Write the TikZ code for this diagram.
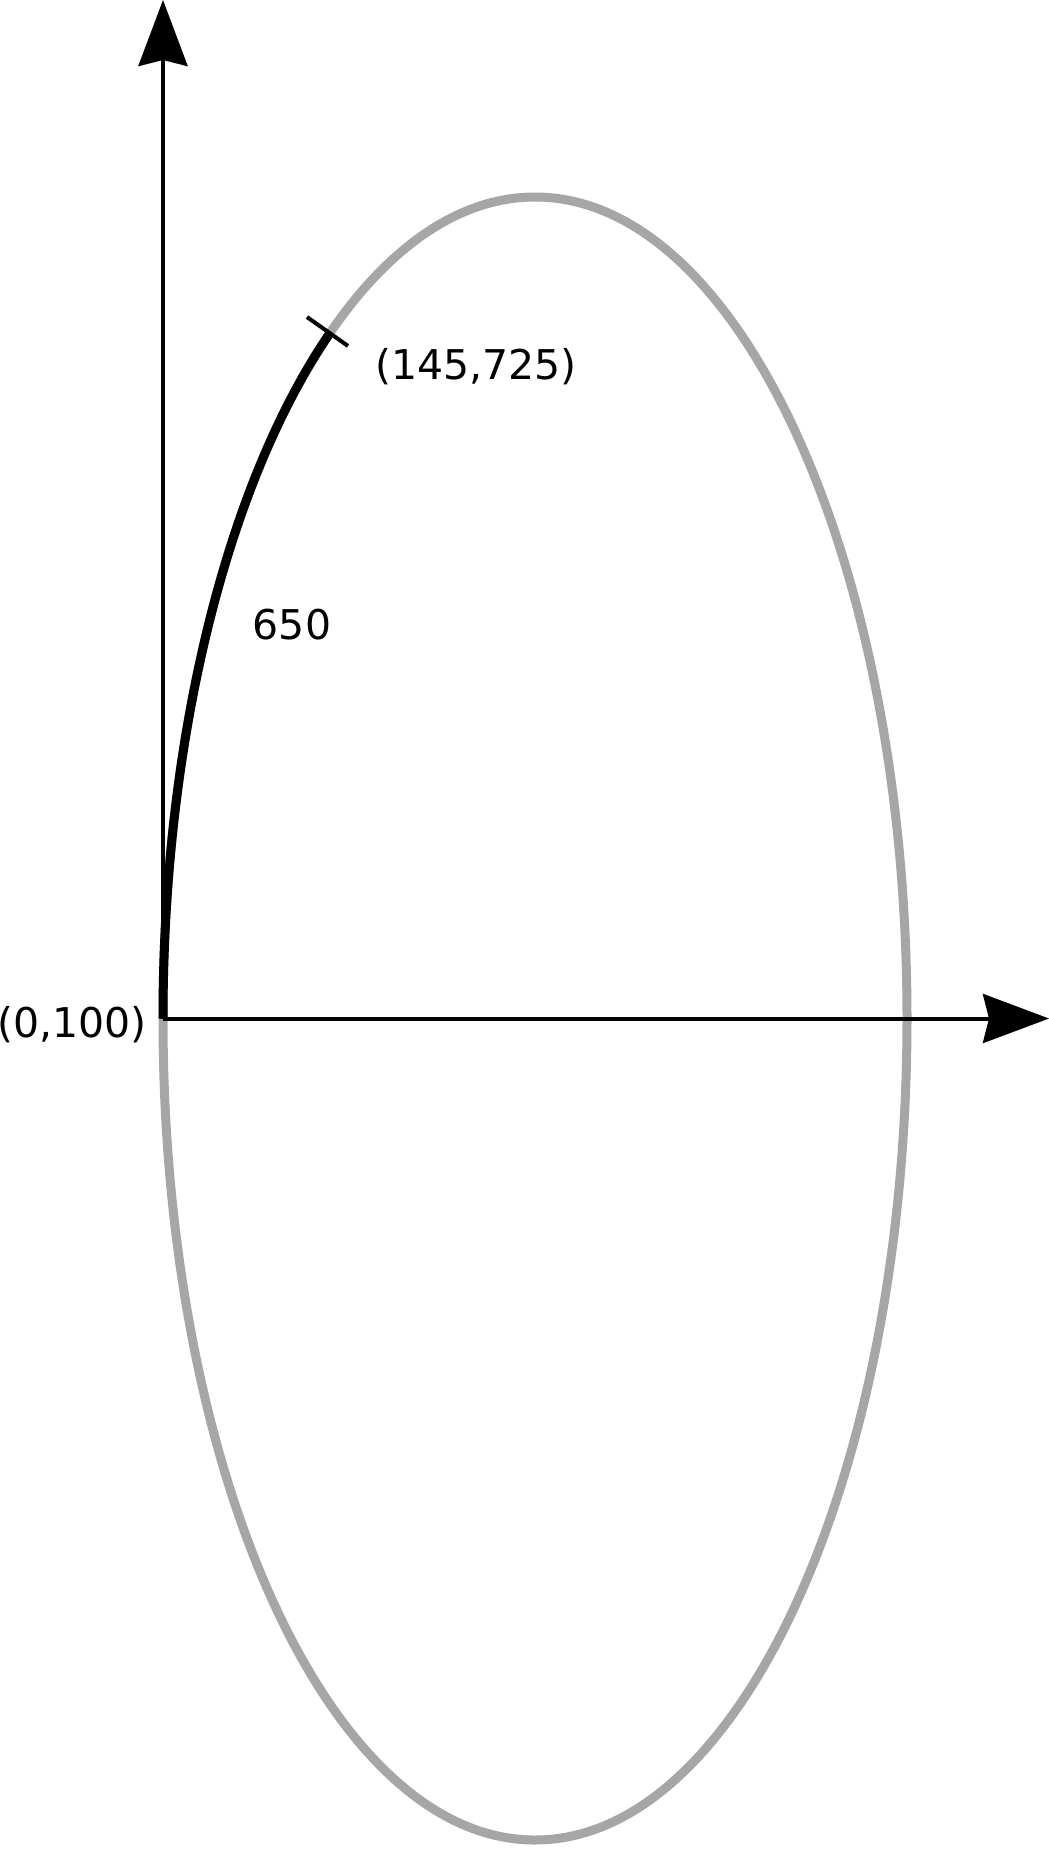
\documentclass[tikz,border=0pt]{standalone}
\usepackage{fontspec}
\setmainfont{DejaVu Sans}
\usetikzlibrary{arrows.meta}
\definecolor{ringgray}{HTML}{A6A6A6}
\tikzset{
  axis/.style={line width=4pt, -{Stealth[length=66pt,width=49pt,inset=6pt]}},
  ring/.style={draw=ringgray, line width=9pt},
  arcline/.style={line width=9pt},
  tick/.style={line width=4pt},
  lbl/.style={font=\fontsize{41}{49}\selectfont, inner sep=0pt}
}
\begin{document}
\begin{tikzpicture}[x=1pt,y=-1pt]
    \useasboundingbox (0,0) rectangle (1049,1850);
    % define points.
    \coordinate (o) at (163,1018.5);
    \coordinate (ytip) at (163,0);
    \coordinate (xtip) at (1049,1018.5);
    \coordinate (c) at (535,1018.5);
    \coordinate (t1) at (307,317);
    \coordinate (t2) at (348,346);
    % draw the ellipse
    \draw[ring] (c) ellipse [x radius=372, y radius=821.5];
    % draw the arc
    \draw[arcline] (o) arc [start angle=180, end angle=236.5, x radius=372, y radius=821.5];
    \draw[tick] (t1) -- (t2);
    % draw the axes
    \draw[axis] (o) -- (ytip);
    \draw[axis] (o) -- (xtip);
    % labels
    \node[lbl] (start) at (72,1025) {(0,100)};
    \node[lbl] (mark) at (476,367) {(145,725)};
    \node[lbl] (len) at (292,625) {650};
\end{tikzpicture}
\end{document}
